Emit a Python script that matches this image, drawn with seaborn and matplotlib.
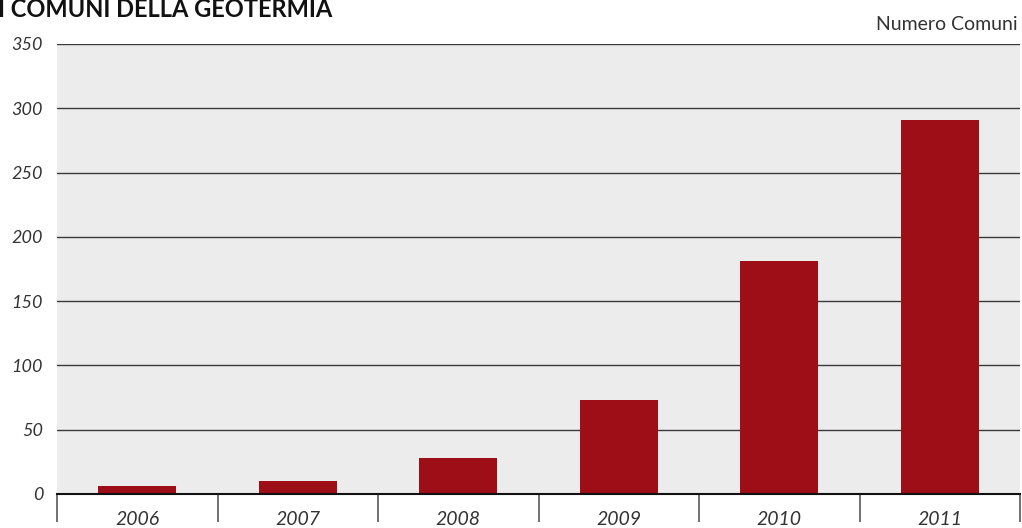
import pandas as pd
import numpy as np
import matplotlib.pyplot as plt
import seaborn as sns

# --------------------------------
# Data
# --------------------------------
years = ["2006", "2007", "2008", "2009", "2010", "2011"]
comuni = [6, 10, 28, 73, 181, 291]
y_ticks = [0, 50, 100, 150, 200, 250, 300, 350]

df = pd.DataFrame({"anno": years, "comuni": comuni})

# --------------------------------
# Style
# --------------------------------
sns.set_style("white")
plt.rcParams["font.family"] = ["Lato", "DejaVu Sans"]

fig = plt.figure(figsize=(10.22, 5.28), dpi=100)
ax = fig.add_axes([57 / 1022, 34 / 528, 963 / 1022, 450 / 528])
ax.set_facecolor("#EBECEB")

sns.barplot(data=df, x="anno", y="comuni", color="#9E0E17",
            width=0.485, saturation=1, linewidth=0, ax=ax, zorder=3)

ax.set_xlim(-0.5, 5.5)
ax.set_ylim(0, 350)
ax.set_yticks(y_ticks)
ax.set_yticklabels([str(v) for v in y_ticks], fontstyle="italic",
                   fontsize=13, color="#333333")

for v in y_ticks[1:]:
    ax.axhline(v, color="#3a3a3a", linewidth=1.0, zorder=2)

# separators between years
ax.set_xticks(np.arange(-0.5, 6.0, 1.0), minor=True)
ax.tick_params(axis="x", which="minor", bottom=True, length=20, width=1.3,
               color="#666666", direction="out")
ax.tick_params(axis="x", which="major", length=0, pad=12)
ax.set_xticklabels(years, fontstyle="italic", fontsize=14, color="#333333")
ax.tick_params(axis="y", length=0, pad=10)

for side in ["top", "right", "left"]:
    ax.spines[side].set_visible(False)
ax.spines["bottom"].set_color("#111111")
ax.spines["bottom"].set_linewidth(1.5)
ax.spines["bottom"].set_zorder(4)

ax.set_xlabel("")
ax.set_ylabel("")

# --------------------------------
# Texts
# --------------------------------
fig.text(-2 / 1022, 1 + 2 / 528, "I COMUNI DELLA GEOTERMIA", fontsize=17,
         fontweight="bold", color="#111111", va="top", ha="left")
fig.text(1018 / 1022, 1 - 24 / 528, "Numero Comuni", fontsize=14,
         color="#333333", va="center", ha="right")

plt.savefig("out.png", dpi=100)
